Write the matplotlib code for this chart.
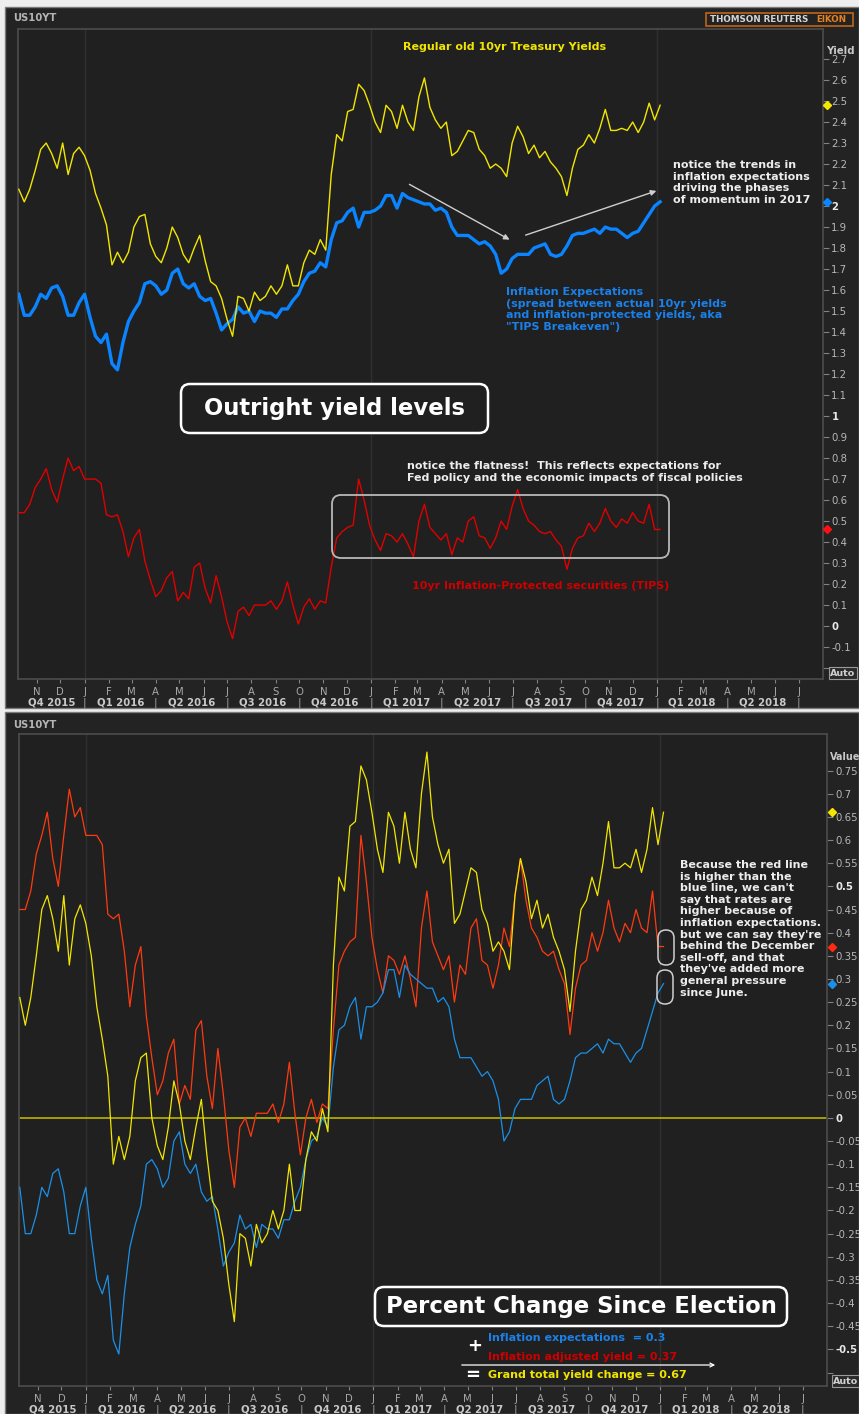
import numpy as np
import pandas as pd
import matplotlib
matplotlib.use("Agg")
import matplotlib.pyplot as plt
from matplotlib.patches import FancyBboxPatch, Rectangle
from matplotlib.transforms import blended_transform_factory, offset_copy

plt.rcParams["font.family"] = ["DejaVu Sans"]

W, H = 859, 1414

# ---- data: weekly closes (Fridays, Oct 2015 - Jan 2018) ----
weeks = pd.date_range("2015-10-09", periods=118, freq="7D")

yield_10y = [
    2.08, 2.02, 2.08, 2.17, 2.27, 2.30, 2.25, 2.18, 2.30, 2.15,
    2.25, 2.28, 2.24, 2.17, 2.06, 1.99, 1.91, 1.72, 1.78, 1.73,
    1.78, 1.90, 1.95, 1.96, 1.82, 1.76, 1.73, 1.80, 1.90, 1.85,
    1.77, 1.73, 1.80, 1.86, 1.74, 1.64, 1.62, 1.56, 1.46, 1.38,
    1.57, 1.56, 1.50, 1.59, 1.55, 1.57, 1.62, 1.58, 1.62, 1.72,
    1.62, 1.62, 1.73, 1.79, 1.77, 1.84, 1.79, 2.15, 2.34, 2.31,
    2.45, 2.46, 2.58, 2.55, 2.48, 2.40, 2.35, 2.48, 2.45, 2.37,
    2.48, 2.40, 2.36, 2.52, 2.61, 2.47, 2.41, 2.37, 2.40, 2.24,
    2.26, 2.31, 2.36, 2.35, 2.27, 2.24, 2.18, 2.20, 2.18, 2.14,
    2.30, 2.38, 2.33, 2.25, 2.29, 2.23, 2.26, 2.21, 2.18, 2.14,
    2.05, 2.18, 2.27, 2.29, 2.34, 2.30, 2.37, 2.46, 2.36, 2.36,
    2.37, 2.36, 2.40, 2.35, 2.40, 2.49, 2.41, 2.48,
]

breakeven = [
    1.58, 1.48, 1.48, 1.52, 1.58, 1.56, 1.61, 1.62, 1.57, 1.48,
    1.48, 1.54, 1.58, 1.47, 1.38, 1.35, 1.39, 1.25, 1.22, 1.35,
    1.45, 1.50, 1.54, 1.63, 1.64, 1.62, 1.58, 1.60, 1.68, 1.70,
    1.63, 1.61, 1.63, 1.57, 1.55, 1.56, 1.49, 1.41, 1.44, 1.46,
    1.52, 1.49, 1.50, 1.45, 1.50, 1.49, 1.49, 1.47, 1.51, 1.51,
    1.55, 1.58, 1.64, 1.68, 1.69, 1.73, 1.71, 1.84, 1.92, 1.93,
    1.97, 1.99, 1.90, 1.97, 1.97, 1.98, 2.00, 2.05, 2.05, 1.99,
    2.06, 2.04, 2.03, 2.02, 2.01, 2.01, 1.98, 1.99, 1.97, 1.90,
    1.86, 1.86, 1.86, 1.84, 1.82, 1.83, 1.81, 1.77, 1.68, 1.70,
    1.75, 1.77, 1.77, 1.77, 1.80, 1.81, 1.82, 1.77, 1.76, 1.77,
    1.81, 1.86, 1.87, 1.87, 1.88, 1.89, 1.87, 1.90, 1.89, 1.89,
    1.87, 1.85, 1.87, 1.88, 1.92, 1.96, 2.00, 2.02,
]

tips = [
    0.54, 0.54, 0.58, 0.66, 0.70, 0.75, 0.65, 0.59, 0.70, 0.80,
    0.74, 0.76, 0.70, 0.70, 0.70, 0.68, 0.53, 0.52, 0.53, 0.45,
    0.33, 0.42, 0.46, 0.31, 0.22, 0.14, 0.17, 0.23, 0.26, 0.12,
    0.16, 0.13, 0.28, 0.30, 0.18, 0.11, 0.24, 0.14, 0.02, -0.06,
    0.07, 0.09, 0.05, 0.10, 0.10, 0.10, 0.12, 0.08, 0.12, 0.21,
    0.10, 0.01, 0.09, 0.13, 0.08, 0.12, 0.11, 0.28, 0.42, 0.45,
    0.47, 0.48, 0.70, 0.60, 0.48, 0.41, 0.36, 0.44, 0.43, 0.40,
    0.44, 0.39, 0.33, 0.50, 0.58, 0.47, 0.44, 0.41, 0.44, 0.34,
    0.42, 0.40, 0.50, 0.52, 0.43, 0.42, 0.37, 0.42, 0.50, 0.46,
    0.57, 0.65, 0.56, 0.50, 0.48, 0.45, 0.44, 0.45, 0.41, 0.38,
    0.27, 0.37, 0.42, 0.43, 0.49, 0.45, 0.49, 0.56, 0.50, 0.47,
    0.51, 0.49, 0.54, 0.50, 0.49, 0.58, 0.46, 0.46,
]

# levels on election day (Nov 8 2016), the base for the lower panel
election_yield = 1.82
election_breakeven = 1.73
election_tips = 0.09

month_letters = "JFMAMJJASOND"

YELLOW = "#f2e600"
BLUE = "#0a84ff"
RED = "#e00000"
ORANGE_RED = "#ff3a10"
BLUE2 = "#1a90e8"
PANEL = "#232323"
PLOT_BG = "#202020"

fig = plt.figure(figsize=(W / 100, H / 100), dpi=100)
fig.patch.set_facecolor("#eeeeee")


def px_axes(z):
    a = fig.add_axes([0, 0, 1, 1], zorder=z)
    a.set_xlim(0, W)
    a.set_ylim(H, 0)
    a.axis("off")
    return a


bg = px_axes(0)
fg = px_axes(20)

for y0, y1 in [(7, 708), (712, 1414)]:
    bg.add_patch(Rectangle((5, y0), W - 5, y1 - y0, fc=PANEL, ec="#7a7a7a", lw=1))

x0 = pd.Timestamp("2015-10-08")
x1 = pd.Timestamp("2018-08-01")


def style_axes(ax, yticks, bold_vals, hide_vals):
    ax.set_facecolor(PLOT_BG)
    for s in ax.spines.values():
        s.set_color("#4c4c4c")
        s.set_linewidth(1.2)
    ax.set_xlim(x0, x1)
    for yr in [2016, 2017, 2018]:
        ax.axvline(pd.Timestamp(f"{yr}-01-01"), color="#303030", lw=1, zorder=0)
    # months
    months = pd.date_range("2015-11-01", "2018-07-01", freq="MS")
    ax.set_xticks(months)
    ax.set_xticklabels([month_letters[m.month - 1] for m in months])
    ax.tick_params(axis="x", length=3, color="#808080", labelsize=7.3,
                   labelcolor="#a8a8a8", pad=3.0)
    # quarters
    tr = blended_transform_factory(ax.transData, ax.transAxes)
    trq = offset_copy(tr, fig=fig, y=-17.0, units="points")
    qstarts = pd.date_range("2016-01-01", "2018-07-01", freq="QS")
    edges = [x0] + list(qstarts)
    for a, b in zip(edges[:-1], edges[1:]):
        q = (b - pd.Timedelta(days=1))
        mid = a + (b - a) / 2
        ax.text(mid, 0, f"Q{(q.month - 1) // 3 + 1} {q.year}", transform=trq,
                ha="center", va="center", fontsize=7.3, fontweight="bold",
                color="#c8c8c8", clip_on=False)
    for b in qstarts:
        ax.text(b, 0, "|", transform=trq, ha="center", va="center",
                fontsize=7.5, color="#a0a0a0", clip_on=False)
    # y axis on the right
    ax.yaxis.tick_right()
    ax.set_yticks(yticks)
    labels = []
    for v in yticks:
        labels.append("" if any(abs(v - h) < 1e-9 for h in hide_vals) else f"{v:g}")
    ax.set_yticklabels(labels)
    ax.tick_params(axis="y", length=4, color="#808080", labelsize=7.3,
                   labelcolor="#b8b8b8", pad=2)
    for v, lab in zip(yticks, ax.get_yticklabels()):
        if any(abs(v - b) < 1e-9 for b in bold_vals):
            lab.set_fontweight("bold")
            lab.set_color("#e8e8e8")


# ---------------- top panel ----------------
ax1 = fig.add_axes([18 / W, 1 - 679 / H, 805 / W, 650 / H], zorder=5)
ax1.plot(weeks, tips, color=RED, lw=1.0, zorder=3)
ax1.plot(weeks, breakeven, color=BLUE, lw=2.4, zorder=3)
ax1.plot(weeks, yield_10y, color=YELLOW, lw=1.0, zorder=4)
ax1.set_ylim(-0.252, 2.843)
style_axes(ax1, np.round(np.arange(-0.2, 2.71, 0.1), 1), [0, 1, 2], [-0.2])
trm = blended_transform_factory(ax1.transAxes, ax1.transData)
for series, c in [(yield_10y, "#f5e600"), (breakeven, BLUE), (tips, "#ff1010")]:
    ax1.plot([1.005], [series[-1]], marker="D", ms=4, color=c, transform=trm,
             clip_on=False, zorder=6)

# ---------------- bottom panel ----------------
chg_yield = np.array(yield_10y) - election_yield
chg_breakeven = np.array(breakeven) - election_breakeven
chg_tips = np.array(tips) - election_tips

ax2 = fig.add_axes([19 / W, 1 - 1386 / H, 808 / W, 652 / H], zorder=5)
ax2.axhline(0, color="#b2a800", lw=1.3, zorder=2)
ax2.plot(weeks, chg_tips, color=ORANGE_RED, lw=0.9, zorder=3)
ax2.plot(weeks, chg_breakeven, color=BLUE2, lw=0.9, zorder=3)
ax2.plot(weeks, chg_yield, color=YELLOW, lw=0.9, zorder=4)
ax2.set_ylim(-0.579, 0.829)
style_axes(ax2, np.round(np.arange(-0.55, 0.751, 0.05), 2), [0, 0.5, -0.5], [-0.55])
trm2 = blended_transform_factory(ax2.transAxes, ax2.transData)
for series, c in [(chg_yield, "#f5e600"), (chg_tips, "#ff2a10"), (chg_breakeven, BLUE2)]:
    ax2.plot([1.006], [series[-1]], marker="D", ms=4, color=c, transform=trm2,
             clip_on=False, zorder=6)

# ---------------- frame texts ----------------
for y in [18, 725]:
    fg.text(13, y, "US10YT", fontsize=7.2, fontweight="bold", color="#b4b4b4",
            ha="left", va="center")
fg.text(840, 51, "Yield", fontsize=7.3, fontweight="bold", color="#c8c8c8",
        ha="center", va="center")
fg.text(830, 757, "Value", fontsize=6.9, fontweight="bold", color="#c8c8c8",
        ha="left", va="center")
for (cx, cy) in [(843, 673), (846, 1381)]:
    fg.text(cx, cy, "Auto", fontsize=6.8, fontweight="bold", color="#d0d0d0",
            ha="center", va="center",
            bbox=dict(boxstyle="square,pad=0.15", fc="#2a2a2a", ec="#9a9a9a", lw=0.8))
fg.add_patch(Rectangle((706, 13), 147, 13, fc="none", ec="#c0661a", lw=1.2))
fg.text(710, 19.5, "THOMSON REUTERS", fontsize=6.3, fontweight="bold",
        color="#d4d4d4", ha="left", va="center")
fg.text(816, 19.5, "EIKON", fontsize=6.3, fontweight="bold", color="#e8801e",
        ha="left", va="center")

# ---------------- top annotations ----------------
fg.text(505, 47, "Regular old 10yr Treasury Yields", fontsize=8, fontweight="bold",
        color="#f0e400", ha="center", va="center")
fg.text(673, 160, "notice the trends in\ninflation expectations\ndriving the phases\nof momentum in 2017",
        fontsize=8, fontweight="bold", color="#ececec", ha="left", va="top",
        linespacing=1.2)
arrow = dict(arrowstyle="-|>", color="#cfcfcf", lw=1.0, mutation_scale=8)
fg.annotate("", xy=(512, 241), xytext=(407, 183), arrowprops=arrow)
fg.annotate("", xy=(659, 190), xytext=(523, 236), arrowprops=arrow)
fg.text(506, 287, "Inflation Expectations\n(spread between actual 10yr yields\n"
        "and inflation-protected yields, aka\n\"TIPS Breakeven\")",
        fontsize=8, fontweight="bold", color="#1a80ea", ha="left", va="top",
        linespacing=1.2)
fg.add_patch(FancyBboxPatch((181, 384), 307, 49, boxstyle="round,pad=0,rounding_size=9",
                            fc=PLOT_BG, ec="white", lw=1.8))
fg.text(334.5, 409, "Outright yield levels", fontsize=16.4, fontweight="bold",
        color="white", ha="center", va="center")
fg.text(407, 461, "notice the flatness!  This reflects expectations for\n"
        "Fed policy and the economic impacts of fiscal policies",
        fontsize=8, fontweight="bold", color="#ececec", ha="left", va="top",
        linespacing=1.2)
fg.add_patch(FancyBboxPatch((332, 495), 337, 63, boxstyle="round,pad=0,rounding_size=9",
                            fc="none", ec="#b8b8b8", lw=1.3))
fg.text(412, 586, "10yr Inflation-Protected securities (TIPS)", fontsize=8,
        fontweight="bold", color="#cc0000", ha="left", va="center")

# ---------------- bottom annotations ----------------
fg.text(680, 860, "Because the red line\nis higher than the\nblue line, we can't\n"
        "say that rates are\nhigher because of\ninflation expectations.\n"
        "but we can say they're\nbehind the December\nsell-off, and that\n"
        "they've added more\ngeneral pressure\nsince June.",
        fontsize=8, fontweight="bold", color="#ececec", ha="left", va="top",
        linespacing=1.2)
for (ex, ey0, ey1) in [(658, 930, 965), (657, 970, 1004)]:
    fg.add_patch(FancyBboxPatch((ex, ey0), 16, ey1 - ey0,
                                boxstyle="round,pad=0,rounding_size=8",
                                fc="none", ec="#d0d0d0", lw=1.1))
fg.add_patch(FancyBboxPatch((375, 1287), 412, 39, boxstyle="round,pad=0,rounding_size=9",
                            fc=PLOT_BG, ec="white", lw=1.8))
fg.text(581, 1307, "Percent Change Since Election", fontsize=16.4, fontweight="bold",
        color="white", ha="center", va="center")
fg.text(475, 1346, "+", fontsize=13, fontweight="bold", color="white",
        ha="center", va="center")
fg.text(488, 1338, "Inflation expectations  = 0.3", fontsize=8, fontweight="bold",
        color="#1a80ea", ha="left", va="center")
fg.text(488, 1357, "Inflation adjusted yield = 0.37", fontsize=8, fontweight="bold",
        color="#cc0000", ha="left", va="center")
fg.annotate("", xy=(718, 1365), xytext=(459, 1365),
            arrowprops=dict(arrowstyle="->", color="white", lw=0.9, mutation_scale=7))
fg.text(473, 1375, "=", fontsize=13, fontweight="bold", color="white",
        ha="center", va="center")
fg.text(488, 1375, "Grand total yield change = 0.67", fontsize=8, fontweight="bold",
        color="#f0e400", ha="left", va="center")

fig.savefig("out.png", dpi=100, facecolor=fig.get_facecolor())
